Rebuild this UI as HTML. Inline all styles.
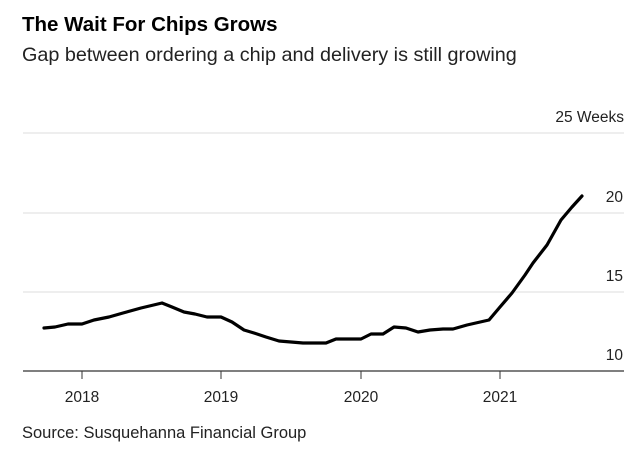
<!DOCTYPE html>
<html><head><style>
body{margin:0;background:#fff;width:641px;height:449px;overflow:hidden;font-family:"Liberation Sans",sans-serif;}
</style></head><body>
<svg width="641" height="449" xmlns="http://www.w3.org/2000/svg" font-family="Liberation Sans, sans-serif">
<text x="22" y="31" font-size="20.5" font-weight="bold" fill="#000">The Wait For Chips Grows</text>
<text x="22" y="61" font-size="19.8" fill="#222">Gap between ordering a chip and delivery is still growing</text>
<g stroke="#ddd" stroke-width="1">
<line x1="23" y1="133" x2="624" y2="133"/>
<line x1="23" y1="213" x2="624" y2="213"/>
<line x1="23" y1="292" x2="624" y2="292"/>
</g>
<line x1="23" y1="371" x2="624" y2="371" stroke="#333" stroke-width="1.3"/>
<g stroke="#333" stroke-width="1">
<line x1="82" y1="371" x2="82" y2="379"/><line x1="221" y1="371" x2="221" y2="379"/>
<line x1="361" y1="371" x2="361" y2="379"/><line x1="500" y1="371" x2="500" y2="379"/>
</g>
<g font-size="15.5" fill="#222">
<text x="624" y="122" text-anchor="end">25 Weeks</text>
<text x="623" y="202" text-anchor="end">20</text>
<text x="623" y="281" text-anchor="end">15</text>
<text x="623" y="360" text-anchor="end">10</text>
<text x="82" y="402" text-anchor="middle">2018</text>
<text x="221" y="402" text-anchor="middle">2019</text>
<text x="361" y="402" text-anchor="middle">2020</text>
<text x="500" y="402" text-anchor="middle">2021</text>
<text x="22" y="438" font-size="16.5">Source: Susquehanna Financial Group</text>
</g>
<polyline fill="none" stroke="#000" stroke-width="3.2" stroke-linejoin="round" stroke-linecap="round"
points="44,328 55,327 68,324 82,324 94,320 109,317 123,313 141,308 162,303 172,307 184,312 195,314 207,317 221,317 232,322 244,330 254,333 266,337 279,341 303,343 326,343 336,339 361,339 371,334 383,334 394,327 406,328 418,332 430,330 443,329 453,329 467,325 489,320 500,307 512,293 525,275 533,263 547,245 561,220 572,207 582,196"/>
</svg>
</body></html>
